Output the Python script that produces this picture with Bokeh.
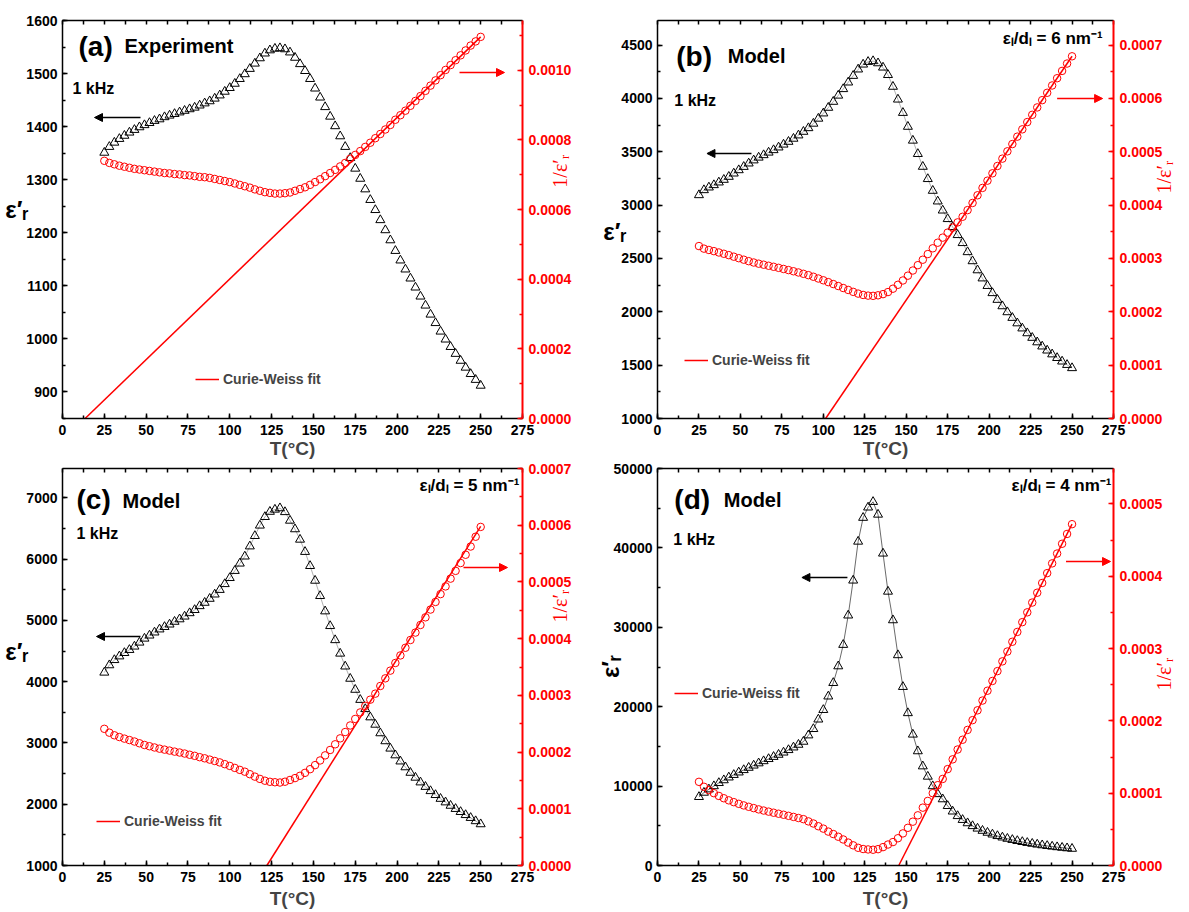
import math
from bokeh.plotting import figure
from bokeh.models import (Range1d, LinearAxis, SingleIntervalTicker, FixedTicker,
                          PrintfTickFormatter, Label, Arrow, NormalHead, Legend, LegendItem)
from bokeh.layouts import gridplot
from bokeh.embed import file_html
from bokeh.resources import INLINE

FONT = "Liberation Sans"
SERIF = "Liberation Serif"

# ---------------- data ----------------
T = [25, 28, 31, 34, 37, 40, 43, 46, 49, 52, 55, 58, 61, 64, 67, 70, 73, 76, 79, 82,
     85, 88, 91, 94, 97, 100, 103, 106, 109, 112, 115, 118, 121, 124, 127, 130, 133, 136, 139, 142,
     145, 148, 151, 154, 157, 160, 163, 166, 169, 172, 175, 178, 181, 184, 187, 190, 193, 196, 199, 202,
     205, 208, 211, 214, 217, 220, 223, 226, 229, 232, 235, 238, 241, 244, 247, 250]

eps_a = [1351, 1362, 1370, 1377, 1383, 1389, 1394, 1399, 1403, 1407,
         1411, 1414, 1418, 1421, 1424, 1427, 1430, 1433, 1436, 1440,
         1444, 1448, 1453, 1459, 1466, 1473, 1481, 1490, 1499, 1509,
         1519, 1529, 1538, 1544, 1547, 1548, 1546, 1540, 1530, 1518,
         1505, 1490, 1472, 1455, 1437, 1419, 1401, 1382, 1362, 1341,
         1321, 1302, 1282, 1262, 1243, 1224, 1205, 1186, 1166, 1148,
         1131, 1114, 1097, 1080, 1063, 1046, 1030, 1014, 999, 985,
         972, 959, 946, 934, 923, 912]
inv_a = [7.40e-4, 7.34e-4, 7.30e-4, 7.26e-4, 7.23e-4, 7.20e-4, 7.17e-4, 7.15e-4, 7.13e-4, 7.11e-4,
         7.09e-4, 7.07e-4, 7.05e-4, 7.04e-4, 7.02e-4, 7.01e-4, 6.99e-4, 6.98e-4, 6.96e-4, 6.94e-4,
         6.93e-4, 6.91e-4, 6.88e-4, 6.85e-4, 6.82e-4, 6.79e-4, 6.75e-4, 6.71e-4, 6.67e-4, 6.63e-4,
         6.58e-4, 6.54e-4, 6.50e-4, 6.48e-4, 6.46e-4, 6.46e-4, 6.47e-4, 6.49e-4, 6.54e-4, 6.59e-4,
         6.64e-4, 6.71e-4, 6.79e-4, 6.87e-4, 6.96e-4, 7.05e-4, 7.14e-4, 7.24e-4, 7.34e-4, 7.46e-4,
         7.57e-4, 7.68e-4, 7.80e-4, 7.92e-4, 8.05e-4, 8.17e-4, 8.30e-4, 8.43e-4, 8.58e-4, 8.71e-4,
         8.84e-4, 8.98e-4, 9.12e-4, 9.26e-4, 9.41e-4, 9.56e-4, 9.71e-4, 9.86e-4, 10.01e-4, 10.15e-4,
         10.29e-4, 10.43e-4, 10.57e-4, 10.71e-4, 10.83e-4, 10.96e-4]
fit_T_a = [13.5, 250]
fit_inv_a = [0.0, 10.96e-4]

eps_b = [3094, 3141, 3166, 3188, 3213, 3238, 3266, 3297, 3328, 3359,
         3391, 3420, 3446, 3469, 3493, 3516, 3541, 3568, 3594, 3623,
         3654, 3688, 3722, 3764, 3811, 3860, 3913, 3969, 4027, 4088,
         4150, 4212, 4272, 4318, 4343, 4350, 4330, 4290, 4220, 4110,
         3990, 3865, 3735, 3605, 3480, 3360, 3245, 3135, 3035, 2950,
         2870, 2795, 2720, 2645, 2560, 2475, 2390, 2314, 2243, 2176,
         2113, 2053, 1997, 1944, 1893, 1845, 1800, 1757, 1715, 1676,
         1638, 1602, 1568, 1535, 1503, 1473]
inv_b = [3.232e-4, 3.184e-4, 3.159e-4, 3.137e-4, 3.112e-4, 3.088e-4, 3.062e-4, 3.033e-4, 3.005e-4, 2.977e-4,
         2.949e-4, 2.924e-4, 2.902e-4, 2.883e-4, 2.863e-4, 2.844e-4, 2.824e-4, 2.803e-4, 2.782e-4, 2.760e-4,
         2.737e-4, 2.712e-4, 2.687e-4, 2.657e-4, 2.624e-4, 2.591e-4, 2.556e-4, 2.520e-4, 2.483e-4, 2.446e-4,
         2.410e-4, 2.374e-4, 2.341e-4, 2.316e-4, 2.303e-4, 2.299e-4, 2.309e-4, 2.331e-4, 2.370e-4, 2.433e-4,
         2.506e-4, 2.587e-4, 2.677e-4, 2.774e-4, 2.874e-4, 2.976e-4, 3.082e-4, 3.190e-4, 3.295e-4, 3.390e-4,
         3.484e-4, 3.578e-4, 3.676e-4, 3.781e-4, 3.906e-4, 4.040e-4, 4.184e-4, 4.322e-4, 4.458e-4, 4.596e-4,
         4.733e-4, 4.871e-4, 5.008e-4, 5.144e-4, 5.283e-4, 5.420e-4, 5.556e-4, 5.692e-4, 5.831e-4, 5.967e-4,
         6.105e-4, 6.242e-4, 6.378e-4, 6.515e-4, 6.653e-4, 6.789e-4]
fit_T_b = [101.4, 250]
fit_inv_b = [0.0, 6.79e-4]

eps_c = [4150, 4270, 4355, 4415, 4470, 4520, 4575, 4640, 4705, 4755,
         4805, 4855, 4895, 4935, 4980, 5020, 5065, 5120, 5172, 5235,
         5290, 5355, 5425, 5500, 5595, 5694, 5810, 5930, 6045, 6210,
         6380, 6550, 6690, 6775, 6810, 6833, 6770, 6630, 6490, 6320,
         6120, 5890, 5650, 5400, 5150, 4910, 4680, 4460, 4250, 4050,
         3870, 3705, 3555, 3420, 3300, 3160, 3030, 2910, 2800, 2700,
         2605, 2515, 2435, 2358, 2285, 2216, 2152, 2090, 2032, 1977,
         1925, 1875, 1825, 1778, 1725, 1675]
inv_c = [2.410e-4, 2.342e-4, 2.296e-4, 2.265e-4, 2.237e-4, 2.212e-4, 2.186e-4, 2.155e-4, 2.125e-4, 2.103e-4,
         2.081e-4, 2.060e-4, 2.043e-4, 2.026e-4, 2.008e-4, 1.992e-4, 1.974e-4, 1.953e-4, 1.934e-4, 1.910e-4,
         1.890e-4, 1.867e-4, 1.843e-4, 1.818e-4, 1.787e-4, 1.756e-4, 1.721e-4, 1.686e-4, 1.654e-4, 1.610e-4,
         1.567e-4, 1.527e-4, 1.495e-4, 1.476e-4, 1.468e-4, 1.463e-4, 1.477e-4, 1.508e-4, 1.541e-4, 1.582e-4,
         1.634e-4, 1.698e-4, 1.770e-4, 1.852e-4, 1.942e-4, 2.037e-4, 2.137e-4, 2.242e-4, 2.353e-4, 2.469e-4,
         2.584e-4, 2.699e-4, 2.813e-4, 2.924e-4, 3.030e-4, 3.165e-4, 3.300e-4, 3.436e-4, 3.571e-4, 3.704e-4,
         3.839e-4, 3.976e-4, 4.107e-4, 4.241e-4, 4.376e-4, 4.513e-4, 4.647e-4, 4.785e-4, 4.921e-4, 5.058e-4,
         5.195e-4, 5.333e-4, 5.479e-4, 5.624e-4, 5.797e-4, 5.970e-4]
fit_T_c = [122.2, 250]
fit_inv_c = [0.0, 5.98e-4]

eps_d = [8640, 9180, 9600, 10000, 10400, 10750, 11100, 11420, 11730, 12030,
         12320, 12600, 12880, 13150, 13420, 13690, 13960, 14240, 14550, 14880,
         15220, 15600, 16400, 17200, 18400, 19600, 21300, 23000, 25100, 27800,
         31500, 35900, 40800, 43800, 45100, 45800, 44200, 39300, 34500, 30900,
         26500, 22500, 19200, 16500, 14400, 12500, 11200, 10000, 9000, 8354,
         7504, 6812, 6236, 5751, 5335, 4975, 4661, 4384, 4138, 3918,
         3721, 3542, 3380, 3232, 3096, 2972, 2857, 2750, 2651, 2559,
         2474, 2393, 2318, 2248, 2181, 2119]
inv_d = [1.157e-4, 1.089e-4, 1.042e-4, 1.000e-4, 0.962e-4, 0.930e-4, 0.901e-4, 0.876e-4, 0.853e-4, 0.831e-4,
         0.812e-4, 0.794e-4, 0.776e-4, 0.760e-4, 0.745e-4, 0.730e-4, 0.716e-4, 0.702e-4, 0.687e-4, 0.672e-4,
         0.657e-4, 0.641e-4, 0.610e-4, 0.581e-4, 0.543e-4, 0.510e-4, 0.469e-4, 0.435e-4, 0.398e-4, 0.360e-4,
         0.317e-4, 0.279e-4, 0.245e-4, 0.228e-4, 0.222e-4, 0.218e-4, 0.226e-4, 0.254e-4, 0.290e-4, 0.324e-4,
         0.377e-4, 0.444e-4, 0.521e-4, 0.606e-4, 0.694e-4, 0.800e-4, 0.893e-4, 1.000e-4, 1.111e-4, 1.197e-4,
         1.333e-4, 1.468e-4, 1.604e-4, 1.739e-4, 1.875e-4, 2.010e-4, 2.146e-4, 2.281e-4, 2.417e-4, 2.552e-4,
         2.688e-4, 2.823e-4, 2.959e-4, 3.094e-4, 3.230e-4, 3.365e-4, 3.501e-4, 3.636e-4, 3.772e-4, 3.907e-4,
         4.043e-4, 4.178e-4, 4.314e-4, 4.449e-4, 4.585e-4, 4.720e-4]
fit_T_d = [145.5, 250]
fit_inv_d = [0.0, 4.72e-4]

panel_tags = ["(a)", "(b)", "(c)", "(d)"]
panel_names = ["Experiment", "Model", "Model", "Model"]
freq_text = "1 kHz"
ratio_texts = [None, "εₗ/dₗ = 6 nm⁻¹", "εₗ/dₗ = 5 nm⁻¹", "εₗ/dₗ = 4 nm⁻¹"]
legend_text = "Curie-Weiss fit"
x_label = "T(°C)"
left_label = "ε′ᵣ"
right_label = "1/ε′ᵣ"
top_minor = [12.5 * k for k in range(23)]


def style_axis(ax, color, width=1.5, size="14px"):
    ax.axis_line_color = color
    ax.axis_line_width = width
    ax.major_tick_line_color = color
    ax.minor_tick_line_color = color
    ax.major_tick_line_width = 1.5
    ax.minor_tick_line_width = 1.5
    ax.major_tick_in = 5
    ax.major_tick_out = 0
    ax.minor_tick_in = 3
    ax.minor_tick_out = 0
    ax.major_label_text_color = color
    ax.major_label_text_font = FONT
    ax.major_label_text_font_style = "bold"
    ax.major_label_text_font_size = size


def title_axis(pos_value, text, standoff, orientation, color, font, style, size):
    """An axis with no line and no ticks that only carries one text at a chosen height."""
    ax = LinearAxis(ticker=FixedTicker(ticks=[pos_value], minor_ticks=[]),
                    major_label_overrides={pos_value: text})
    ax.axis_line_color = None
    ax.major_tick_line_color = None
    ax.minor_tick_line_color = None
    ax.major_tick_in = 0
    ax.major_tick_out = 0
    ax.minor_tick_in = 0
    ax.minor_tick_out = 0
    ax.major_label_standoff = standoff
    ax.major_label_orientation = orientation
    ax.major_label_text_color = color
    ax.major_label_text_font = font
    ax.major_label_text_font_style = style
    ax.major_label_text_font_size = size
    return ax


def make_panel(i, eps, inv, fitT, fitV, yr, yint, rr, rint, geo, size, borders, ann):
    left, top, fw, fh = geo
    W, H = size
    bl, br, bt, bb = borders
    xr = (0, 275)
    p = figure(width=W, height=H,
               min_border_left=bl, min_border_right=br, min_border_top=bt, min_border_bottom=bb,
               x_range=Range1d(*xr), y_range=Range1d(*yr),
               output_backend="svg", toolbar_location=None, tools="")
    p.extra_y_ranges = {"inv": Range1d(*rr)}
    p.outline_line_color = None
    p.xgrid.visible = False
    p.ygrid.visible = False
    p.background_fill_color = "white"
    p.border_fill_color = "white"

    def P(X, Y):
        return (xr[0] + (X - left) / fw * (xr[1] - xr[0]),
                yr[1] - (Y - top) / fh * (yr[1] - yr[0]))

    def ydat(Y):
        return int(round(P(left, Y)[1]))

    xa = p.xaxis[0]
    xa.ticker = SingleIntervalTicker(interval=25, num_minor_ticks=2)
    style_axis(xa, "black")
    xa.major_label_standoff = 6
    xa.axis_label = x_label
    xa.axis_label_standoff = ann["x_standoff"]
    xa.axis_label_text_font = FONT
    xa.axis_label_text_font_style = "bold"
    xa.axis_label_text_font_size = "19px"

    ya = p.yaxis[0]
    ya.ticker = SingleIntervalTicker(interval=yint, num_minor_ticks=2)
    style_axis(ya, "black")
    ya.major_label_standoff = 5

    # left title (eps'_r) carried by a line-less axis placed outside the tick labels
    ey, es, eorient = ann["eps"]
    p.add_layout(title_axis(ydat(ey), left_label, es, eorient,
                            "black", FONT, "bold", "24px"), "left")

    top_ax = LinearAxis(ticker=FixedTicker(ticks=[], minor_ticks=top_minor))
    style_axis(top_ax, "black")
    top_ax.minor_tick_in = 4
    top_ax.major_label_standoff = 0
    p.add_layout(top_ax, "above")

    ra = LinearAxis(y_range_name="inv",
                    ticker=SingleIntervalTicker(interval=rint, num_minor_ticks=2),
                    formatter=PrintfTickFormatter(format="%.4f"))
    style_axis(ra, "red", width=2)
    ra.major_label_standoff = 6
    p.add_layout(ra, "right")

    iy, isf = ann["inv"]
    p.add_layout(title_axis(ydat(iy), right_label, isf, math.pi / 2,
                            "red", SERIF, "normal", "20px"), "right")

    # data
    if ann["link"]:
        p.line(T, eps, line_color=ann["link"], line_width=0.8)
    p.scatter(T, eps, marker="triangle", size=9, fill_color=None,
              line_color="black", line_width=1)
    p.scatter(T, inv, marker="circle", size=7.5, fill_color=None,
              line_color="red", line_width=1, y_range_name="inv")
    fit = p.line(fitT, fitV, line_color="red", line_width=1.5, y_range_name="inv")

    leg = Legend(items=[LegendItem(label=legend_text, renderers=[fit])],
                 location=ann["legend"], background_fill_alpha=0, border_line_alpha=0,
                 padding=0, margin=0, spacing=0, glyph_width=24, glyph_height=16,
                 label_height=16, label_standoff=4, label_text_font=FONT,
                 label_text_font_style="bold", label_text_font_size="14px")
    p.add_layout(leg)

    def lab(X, Y, text, size, color="black", style="bold", font=FONT,
            align="left", baseline="middle"):
        x, y = P(X, Y)
        p.add_layout(Label(x=x, y=y, text=text, text_font=font, text_font_style=style,
                           text_font_size=f"{size}px", text_color=color,
                           text_align=align, text_baseline=baseline))

    def arrow(a, b, color):
        x0, y0 = P(*a)
        x1, y1 = P(*b)
        p.add_layout(Arrow(x_start=x0, y_start=y0, x_end=x1, y_end=y1,
                           line_color=color, line_width=1.3,
                           end=NormalHead(size=8, fill_color=color, line_color=color, line_width=1)))

    lab(*ann["tag"], panel_tags[i], 28)
    lab(*ann["name"], panel_names[i], 20)
    lab(*ann["khz"], freq_text, 16)
    arrow(*ann["barrow"], "black")
    arrow(*ann["rarrow"], "red")
    if ratio_texts[i]:
        lab(*ann["ratio"], ratio_texts[i], 17)
    return p


ann_a = dict(tag=(78, 46), name=(124, 45), khz=(72, 88),
             barrow=((140, 117), (94, 117)), rarrow=((459, 72), (504, 72)),
             legend=(133, 31), x_standoff=0, eps=(209, -5, "horizontal"), inv=(187, -14), link=None)
ann_b = dict(tag=(675, 56), name=(727, 55), khz=(673, 100),
             barrow=((751, 153), (706, 153)), rarrow=((1060, 98), (1106, 98)),
             legend=(27, 50), ratio=(1005, 38), x_standoff=0, eps=(231, -8, "horizontal"), inv=(193, -1),
             link="#9a9a9a")
ann_c = dict(tag=(76, 499), name=(122, 500), khz=(76, 533),
             barrow=((140, 636), (96, 636)), rarrow=((463, 567), (507, 567)),
             legend=(34, 36), ratio=(419, 485), x_standoff=3, eps=(651, -5, "horizontal"), inv=(622, -14),
             link="#9a9a9a")
ann_d = dict(tag=(673, 499), name=(723, 499), khz=(672, 539),
             barrow=((848, 577), (802, 577)), rarrow=((1069, 561), (1114, 561)),
             legend=(17, 164), ratio=(1014, 485), x_standoff=3, eps=(666, -14, "parallel"), inv=(690, -1),
             link="#444444")

pa = make_panel(0, eps_a, inv_a, fit_T_a, fit_inv_a, (850, 1600), 100, (0, 0.001143), 0.0002,
                (62, 20, 460, 398), (594, 462), (62, 72, 20, 44), ann_a)
pb = make_panel(1, eps_b, inv_b, fit_T_b, fit_inv_b, (1000, 4730), 500, (0, 0.000746), 0.0001,
                (656, 20, 461, 398), (595, 462), (62, 72, 20, 44), ann_b)
pc = make_panel(2, eps_c, inv_c, fit_T_c, fit_inv_c, (1000, 7480), 1000, (0, 0.0007), 0.0001,
                (62, 468, 460, 397), (594, 450), (62, 72, 6, 47), ann_c)
pd = make_panel(3, eps_d, inv_d, fit_T_d, fit_inv_d, (0, 50000), 10000, (0, 0.000549), 0.0001,
                (656, 468, 461, 397), (595, 450), (62, 72, 6, 47), ann_d)

grid = gridplot([[pa, pb], [pc, pd]], toolbar_location=None)
open("out.html", "w").write(file_html(grid, INLINE))
